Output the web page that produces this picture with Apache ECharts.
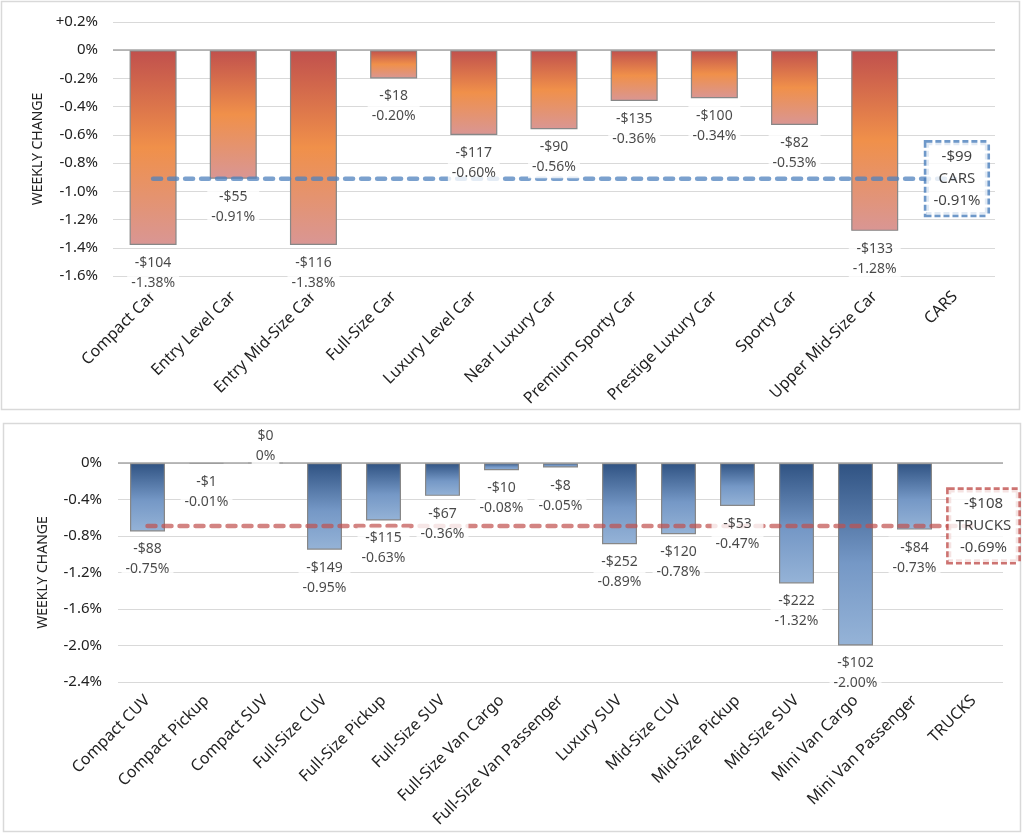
<!DOCTYPE html>
<html><head><meta charset="utf-8">
<script src="https://cdn.jsdelivr.net/npm/echarts@6/dist/echarts.min.js"></script>
<style>html,body{margin:0;padding:0;background:#fff}#c{width:1024px;height:833px}</style>
</head><body><div id="c"></div>
<script>
// ---- data ----
const carCategories = ['Compact Car','Entry Level Car','Entry Mid-Size Car','Full-Size Car','Luxury Level Car','Near Luxury Car','Premium Sporty Car','Prestige Luxury Car','Sporty Car','Upper Mid-Size Car','CARS'];
const carDollars = [-104,-55,-116,-18,-117,-90,-135,-100,-82,-133,-99];
const carPct = [-1.38,-0.91,-1.38,-0.20,-0.60,-0.56,-0.36,-0.34,-0.53,-1.28,-0.91];
const carAxis = {min:-1.6, max:0.2, interval:0.2};

const truckCategories = ['Compact CUV','Compact Pickup','Compact SUV','Full-Size CUV','Full-Size Pickup','Full-Size SUV','Full-Size Van Cargo','Full-Size Van Passenger','Luxury SUV','Mid-Size CUV','Mid-Size Pickup','Mid-Size SUV','Mini Van Cargo','Mini Van Passenger','TRUCKS'];
const truckDollars = [-88,-1,0,-149,-115,-67,-10,-8,-252,-120,-53,-222,-102,-84,-108];
const truckPct = [-0.75,-0.01,0,-0.95,-0.63,-0.36,-0.08,-0.05,-0.89,-0.78,-0.47,-1.32,-2.00,-0.73,-0.69];
const truckAxis = {min:-2.4, max:0, interval:0.4};

// ---- helpers ----
const FONT = 'Noto Sans';
const fmtDollar = d => d < 0 ? '-$' + Math.abs(d) : '$' + d;
const fmtPct = p => p === 0 ? '0%' : p.toFixed(2) + '%';
const fmtTick = v => Math.abs(v) < 1e-9 ? '0%' : (v > 0 ? '+' : '') + v.toFixed(1) + '%';

function buildSeries(idx, cats, dollars, pct, grad, lineColor, boxColor) {
  const n = cats.length;
  const barData = pct.map((p, i) => i < n - 1 ? p : '-');
  const labelData = pct.slice(0, n - 1).map((p, i) => ({
    value: [i, p],
    label: { position: p === 0 ? 'top' : 'bottom', distance: p === 0 ? -4 : 7 }
  }));
  return [
    {
      type: 'bar', xAxisIndex: idx, yAxisIndex: idx, z: 2,
      data: barData, barWidth: idx === 0 ? 47 : 35,
      itemStyle: {
        color: new echarts.graphic.LinearGradient(0, 0, 0, 1, grad),
        borderColor: '#878787', borderWidth: 1.2
      },
      markLine: {
        silent: true, symbol: 'none', label: { show: false },
        lineStyle: { color: '#a6a6a6', width: 1.5, type: 'solid' },
        data: [{ yAxis: 0 }]
      }
    },
    {
      type: 'line', xAxisIndex: idx, yAxisIndex: idx, z: 3,
      data: [[0, pct[n - 1]], [n - 1, pct[n - 1]]],
      symbol: 'none', silent: true,
      lineStyle: { color: lineColor, width: 4.5, type: [8, 8], cap: 'round' }
    },
    {
      type: 'scatter', xAxisIndex: idx, yAxisIndex: idx, z: 5,
      symbolSize: 0, silent: true,
      data: labelData,
      label: {
        show: true, fontFamily: FONT, fontSize: 14, lineHeight: 20, color: '#1a1a1a',
        backgroundColor: '#fff', padding: [1, 4],
        formatter: prm => fmtDollar(dollars[prm.dataIndex]) + '\n' + fmtPct(pct[prm.dataIndex])
      }
    },
    {
      type: 'scatter', xAxisIndex: idx, yAxisIndex: idx, z: 6,
      symbolSize: 0, silent: true,
      data: [[n - 1, pct[n - 1]]],
      label: {
        show: true, position: 'inside', offset: idx === 0 ? [2, 0] : [10, 0],
        fontFamily: FONT, fontSize: 15, lineHeight: 22, color: '#111',
        backgroundColor: '#fff', padding: [3, 7],
        borderColor: boxColor, borderWidth: 2.6, borderType: [6, 3],
        formatter: () => fmtDollar(dollars[n - 1]) + '\n' + cats[n - 1] + '\n' + fmtPct(pct[n - 1])
      }
    }
  ];
}

const axisLabelStyle = { fontFamily: FONT, fontSize: 15, color: '#222' };

const option = {
  backgroundColor: '#fff',
  animation: false,
  graphic: [
    { type: 'rect', shape: { x: 1.5, y: 1.5, width: 1018, height: 408 }, style: { fill: 'none', stroke: '#d9d9d9', lineWidth: 1.5 } },
    { type: 'rect', shape: { x: 3.5, y: 423.5, width: 1017, height: 408 }, style: { fill: 'none', stroke: '#d9d9d9', lineWidth: 1.5 } }
  ],
  grid: [
    { left: 113, top: 22, width: 882, height: 254 },
    { left: 118, top: 463, width: 885, height: 219 }
  ],
  xAxis: [0, 1].map(i => ({
    type: 'category', gridIndex: i,
    data: i === 0 ? carCategories : truckCategories,
    axisLine: { show: false }, axisTick: { show: false },
    axisLabel: Object.assign({ interval: 0, rotate: 45, margin: i === 0 ? 18 : 16 }, axisLabelStyle, { fontSize: 16 })
  })),
  yAxis: [0, 1].map(i => {
    const ax = i === 0 ? carAxis : truckAxis;
    return {
      type: 'value', gridIndex: i, min: ax.min, max: ax.max, interval: ax.interval,
      name: 'WEEKLY CHANGE', nameLocation: 'middle', nameGap: i === 0 ? 67 : 68, nameRotate: 90,
      nameTextStyle: { fontFamily: FONT, fontSize: 14, color: '#222' },
      axisLine: { show: false }, axisTick: { show: false },
      splitLine: { lineStyle: { color: '#d9d9d9', width: 1.2 } },
      axisLabel: Object.assign({ margin: i === 0 ? 15 : 16, formatter: fmtTick }, axisLabelStyle)
    };
  }),
  series: [].concat(
    buildSeries(0, carCategories, carDollars, carPct,
      [{ offset: 0, color: '#c0504d' }, { offset: 0.5, color: '#f0904a' }, { offset: 1, color: '#d99694' }],
      'rgba(79,129,189,0.75)', '#4a7ebb'),
    buildSeries(1, truckCategories, truckDollars, truckPct,
      [{ offset: 0, color: '#2f5282' }, { offset: 0.55, color: '#7598c6' }, { offset: 1, color: '#95b3d7' }],
      'rgba(192,80,77,0.7)', '#c0504d')
  )
};

const chart = echarts.init(document.getElementById('c'), null, { renderer: 'canvas' });
chart.setOption(option);
</script>
</body></html>
